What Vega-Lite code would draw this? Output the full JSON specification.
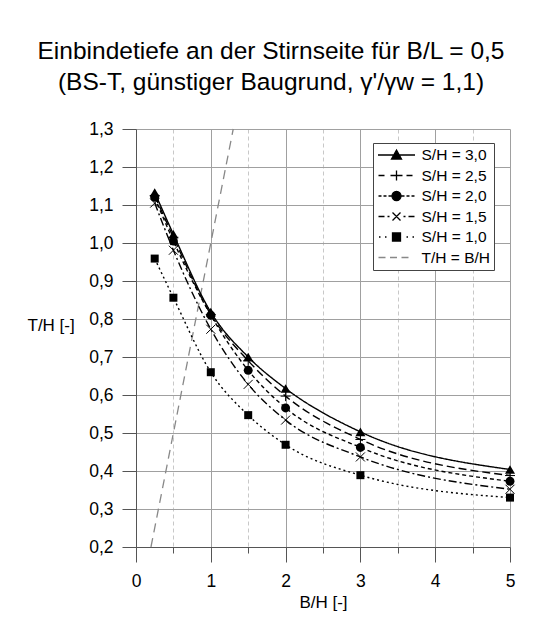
{
  "$schema": "https://vega.github.io/schema/vega-lite/v6.json",
  "width": 374,
  "height": 418,
  "autosize": "none",
  "padding": {"left": 136, "top": 129, "right": 34, "bottom": 94},
  "background": "#ffffff",
  "config": {
    "font": "Liberation Sans",
    "view": {"stroke": null},
    "axis": {"labelFont": "Liberation Sans", "titleFont": "Liberation Sans", "labelColor": "#000", "titleColor": "#000", "titleFontWeight": "normal"}
  },
  "title": {
    "text": ["Einbindetiefe an der Stirnseite für B/L = 0,5", "(BS-T, günstiger Baugrund, γ'/γw = 1,1)"],
    "font": "Liberation Sans",
    "fontSize": 24.5,
    "fontWeight": "normal",
    "color": "#000",
    "anchor": "middle",
    "frame": "group",
    "dx": -52,
    "offset": 25,
    "lineHeight": 31
  },
  "datasets": {
    "curves": [
      {"s": "S/H = 3,0", "x": 0.25, "y": 1.133}, {"s": "S/H = 3,0", "x": 0.5, "y": 1.023}, {"s": "S/H = 3,0", "x": 1, "y": 0.818}, {"s": "S/H = 3,0", "x": 1.5, "y": 0.70}, {"s": "S/H = 3,0", "x": 2, "y": 0.617}, {"s": "S/H = 3,0", "x": 3, "y": 0.503}, {"s": "S/H = 3,0", "x": 5, "y": 0.404},
      {"s": "S/H = 2,5", "x": 0.25, "y": 1.125}, {"s": "S/H = 2,5", "x": 0.5, "y": 1.015}, {"s": "S/H = 2,5", "x": 1, "y": 0.812}, {"s": "S/H = 2,5", "x": 1.5, "y": 0.69}, {"s": "S/H = 2,5", "x": 2, "y": 0.597}, {"s": "S/H = 2,5", "x": 3, "y": 0.483}, {"s": "S/H = 2,5", "x": 5, "y": 0.388},
      {"s": "S/H = 2,0", "x": 0.25, "y": 1.12}, {"s": "S/H = 2,0", "x": 0.5, "y": 1.005}, {"s": "S/H = 2,0", "x": 1, "y": 0.81}, {"s": "S/H = 2,0", "x": 1.5, "y": 0.665}, {"s": "S/H = 2,0", "x": 2, "y": 0.566}, {"s": "S/H = 2,0", "x": 3, "y": 0.462}, {"s": "S/H = 2,0", "x": 5, "y": 0.373},
      {"s": "S/H = 1,5", "x": 0.25, "y": 1.105}, {"s": "S/H = 1,5", "x": 0.5, "y": 0.981}, {"s": "S/H = 1,5", "x": 1, "y": 0.773}, {"s": "S/H = 1,5", "x": 1.5, "y": 0.628}, {"s": "S/H = 1,5", "x": 2, "y": 0.534}, {"s": "S/H = 1,5", "x": 3, "y": 0.437}, {"s": "S/H = 1,5", "x": 5, "y": 0.352},
      {"s": "S/H = 1,0", "x": 0.25, "y": 0.959}, {"s": "S/H = 1,0", "x": 0.5, "y": 0.856}, {"s": "S/H = 1,0", "x": 1, "y": 0.66}, {"s": "S/H = 1,0", "x": 1.5, "y": 0.547}, {"s": "S/H = 1,0", "x": 2, "y": 0.469}, {"s": "S/H = 1,0", "x": 3, "y": 0.389}, {"s": "S/H = 1,0", "x": 5, "y": 0.33}
    ],
    "diag": [{"x": 0.2, "y": 0.2}, {"x": 1.3, "y": 1.3}],
    "leg": [
      {"s": "S/H = 3,0", "x": 5, "y": 0.404},
      {"s": "S/H = 2,5", "x": 5, "y": 0.388},
      {"s": "S/H = 2,0", "x": 5, "y": 0.373},
      {"s": "S/H = 1,5", "x": 5, "y": 0.352},
      {"s": "S/H = 1,0", "x": 5, "y": 0.33},
      {"s": "T/H = B/H", "x": 1.3, "y": 1.3}
    ]
  },
  "layer": [
    {
      "data": {"name": "diag"},
      "mark": {"type": "line", "color": "#888", "strokeWidth": 1.3, "strokeDash": [9, 6]},
      "encoding": {
        "x": {"field": "x", "type": "quantitative", "scale": {"domain": [0, 5], "nice": false, "zero": false},
          "axis": {"orient": "bottom", "values": [0.5, 1.5, 2.5, 3.5, 4.5], "grid": true, "gridColor": "#c8c8c8", "gridDash": [4, 3], "gridWidth": 1, "labels": false, "domain": false, "ticks": true, "tickSize": 6, "tickColor": "#555", "title": null}},
        "y": {"field": "y", "type": "quantitative", "scale": {"domain": [0.2, 1.3], "nice": false, "zero": false}, "axis": null}
      }
    },
    {
      "data": {"name": "curves"},
      "mark": {"type": "line", "color": "#000", "strokeWidth": 1.4, "interpolate": "monotone"},
      "encoding": {
        "x": {"field": "x", "type": "quantitative",
          "axis": {"orient": "bottom", "values": [0, 1, 2, 3, 4, 5], "grid": true, "gridColor": "#a0a0a0", "gridWidth": 1, "domainColor": "#555", "tickColor": "#555", "tickSize": 15, "labelPadding": 10, "labelFontSize": 17.5, "labelFlush": false, "title": "B/H [-]", "titleFontSize": 17, "titleY": 55, "titleBaseline": "middle", "titleX": 187}},
        "y": {"field": "y", "type": "quantitative",
          "axis": {"orient": "left", "values": [0.2, 0.3, 0.4, 0.5, 0.6, 0.7, 0.8, 0.9, 1.0, 1.1, 1.2, 1.3], "labelExpr": "replace(format(datum.value, '.1f'), '.', ',')", "grid": true, "gridColor": "#a0a0a0", "gridWidth": 1, "domainColor": "#555", "tickColor": "#555", "tickSize": 14, "labelPadding": 9, "labelFontSize": 17.5, "labelFlush": false, "title": "T/H [-]", "titleFontSize": 17, "titleAngle": 0, "titleAlign": "left", "titleBaseline": "middle", "titleX": -109, "titleY": 196}},
        "strokeDash": {"field": "s", "type": "nominal", "scale": {"domain": ["S/H = 3,0", "S/H = 2,5", "S/H = 2,0", "S/H = 1,5", "S/H = 1,0"], "range": [[1, 0], [8, 4], [4, 3], [8, 3, 2, 3], [2, 3]]}, "legend": null}
      }
    },
    {
      "data": {"name": "curves"},
      "transform": [{"filter": "datum.s === 'S/H = 1,0'"}],
      "mark": {"type": "point", "shape": "square", "filled": true, "color": "#000", "size": 64, "opacity": 1},
      "encoding": {"x": {"field": "x", "type": "quantitative", "axis": null}, "y": {"field": "y", "type": "quantitative", "axis": null}}
    },
    {
      "data": {"name": "curves"},
      "transform": [{"filter": "datum.s === 'S/H = 1,5'"}],
      "mark": {"type": "point", "shape": "M-0.9,-0.9L0.9,0.9M-0.9,0.9L0.9,-0.9", "filled": false, "color": "#000", "strokeWidth": 1, "size": 100, "opacity": 1},
      "encoding": {"x": {"field": "x", "type": "quantitative", "axis": null}, "y": {"field": "y", "type": "quantitative", "axis": null}}
    },
    {
      "data": {"name": "curves"},
      "transform": [{"filter": "datum.s === 'S/H = 2,0'"}],
      "mark": {"type": "point", "shape": "circle", "filled": true, "color": "#000", "size": 80, "opacity": 1},
      "encoding": {"x": {"field": "x", "type": "quantitative", "axis": null}, "y": {"field": "y", "type": "quantitative", "axis": null}}
    },
    {
      "data": {"name": "curves"},
      "transform": [{"filter": "datum.s === 'S/H = 2,5'"}],
      "mark": {"type": "point", "shape": "M-1,0L1,0M0,-1L0,1", "filled": false, "color": "#000", "strokeWidth": 1, "size": 100, "opacity": 1},
      "encoding": {"x": {"field": "x", "type": "quantitative", "axis": null}, "y": {"field": "y", "type": "quantitative", "axis": null}}
    },
    {
      "data": {"name": "curves"},
      "transform": [{"filter": "datum.s === 'S/H = 3,0'"}],
      "mark": {"type": "point", "shape": "triangle-up", "filled": true, "color": "#000", "size": 100, "opacity": 1},
      "encoding": {"x": {"field": "x", "type": "quantitative", "axis": null}, "y": {"field": "y", "type": "quantitative", "axis": null}}
    },
    {
      "data": {"name": "leg"},
      "mark": {"type": "point", "filled": false, "fill": "#000", "opacity": 0},
      "encoding": {
        "x": {"field": "x", "type": "quantitative", "axis": null},
        "y": {"field": "y", "type": "quantitative", "axis": null},
        "shape": {"field": "s", "type": "nominal", "scale": {"domain": ["S/H = 3,0", "S/H = 2,5", "S/H = 2,0", "S/H = 1,5", "S/H = 1,0", "T/H = B/H"], "range": [
          "M-2.643,0L2.643,0M0,-0.714L0.714,0.571L-0.714,0.571Z",
          "M-2.571,0L-1.714,0M-0.857,0L0.857,0M0,-0.714L0,0.714M1.429,0L2.286,0",
          "M-2.571,0L-2.143,0M-1.857,0L-1.429,0M-1.143,0L-0.714,0M0.714,0L1.143,0M1.429,0L1.857,0M2.143,0L2.571,0M0.643,0A0.643,0.643,0,1,1,-0.643,0A0.643,0.643,0,1,1,0.643,0Z",
          "M-2.571,0L-1.714,0M-1.286,0L-1,0M1,0L1.286,0M1.714,0L2.571,0M-0.571,-0.571L0.571,0.571M-0.571,0.571L0.571,-0.571",
          "M-2.5,0L-2.286,0M-1.643,0L-1.429,0M1.429,0L1.643,0M2.286,0L2.5,0M-0.571,-0.571L0.571,-0.571L0.571,0.571L-0.571,0.571Z",
          "M-2.571,0L-1.571,0M-0.929,0L0.071,0M0.714,0L1.714,0"
        ]},
          "legend": {"orient": "none", "legendX": 237, "legendY": 14, "title": null, "symbolSize": 196, "symbolStrokeWidth": 1.3, "symbolOffset": 11.5, "labelOffset": 17, "labelFontSize": 15.5, "labelFont": "Liberation Sans", "labelColor": "#000", "rowPadding": 3.5, "padding": 4, "strokeColor": "#444", "fillColor": "#ffffff"}},
        "color": {"field": "s", "type": "nominal", "scale": {"domain": ["S/H = 3,0", "S/H = 2,5", "S/H = 2,0", "S/H = 1,5", "S/H = 1,0", "T/H = B/H"], "range": ["#000", "#000", "#000", "#000", "#000", "#888"]},
          "legend": {"orient": "none", "legendX": 237, "legendY": 14, "title": null, "symbolSize": 196, "symbolStrokeWidth": 1.3, "symbolOffset": 11.5, "labelOffset": 17, "labelFontSize": 15.5, "labelFont": "Liberation Sans", "labelColor": "#000", "rowPadding": 3.5, "padding": 4, "strokeColor": "#444", "fillColor": "#ffffff"}}
      }
    }
  ],
  "resolve": {"axis": {"x": "independent", "y": "independent"}}
}
